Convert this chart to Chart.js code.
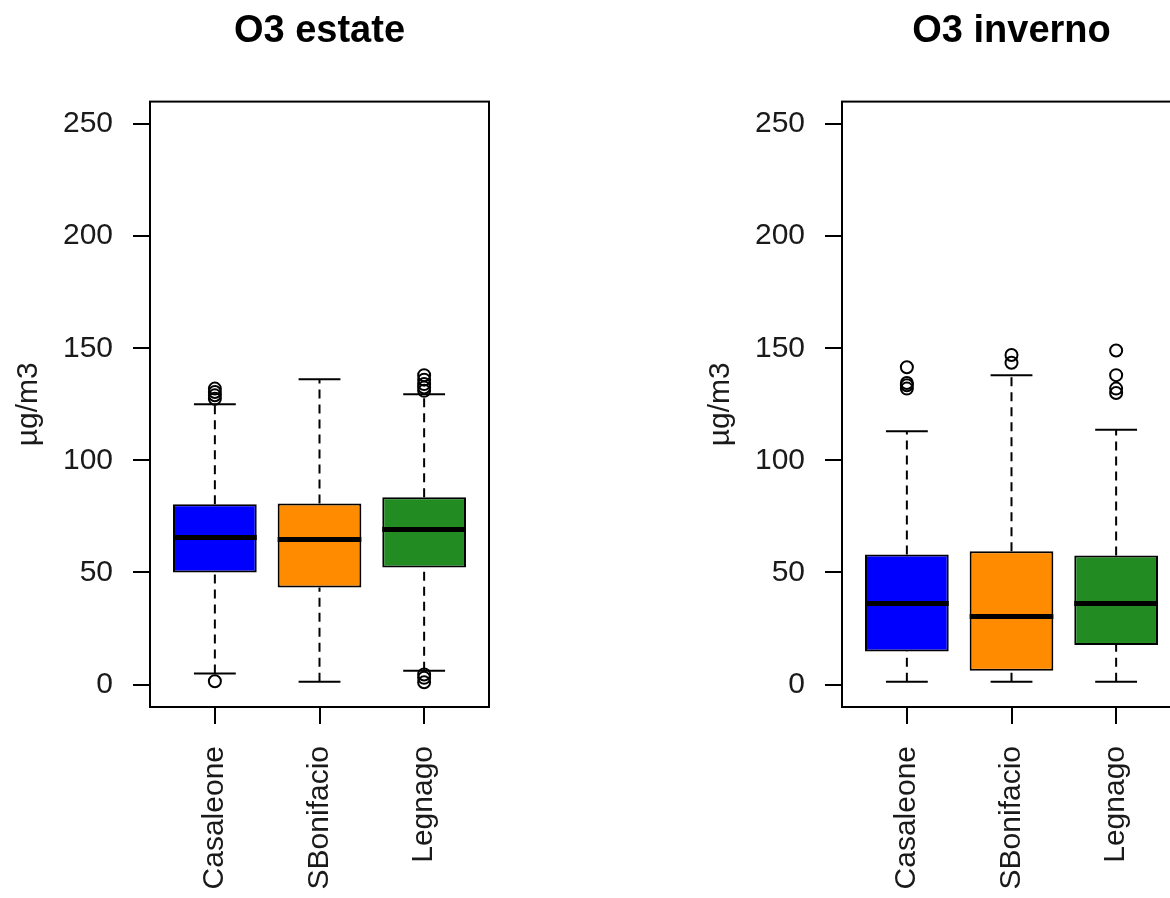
<!DOCTYPE html>
<html>
<head>
<meta charset="utf-8">
<script src="https://cdn.jsdelivr.net/npm/chart.js@4.4.1/dist/chart.umd.min.js"></script>
<style>
  html, body { margin: 0; padding: 0; background: #fff; overflow: hidden; }
  #wrap { position: relative; width: 1170px; height: 898px; overflow: hidden; }
  .panel { position: absolute; top: 0; width: 540px; height: 898px; }
</style>
</head>
<body>
<div id="wrap">
  <div class="panel" style="left:0px"><canvas id="estate" width="540" height="898"></canvas></div>
  <div class="panel" style="left:692px"><canvas id="inverno" width="540" height="898"></canvas></div>
</div>
<script>
const stations = ["Casaleone", "SBonifacio", "Legnago"];
const boxColors = ["#0000FF", "#FF8C00", "#228B22"];
const yTickValues = [0, 50, 100, 150, 200, 250];
const yAxisTitle = "\u00b5g/m3";

// O3 estate
const estateLow = [4.9, 1.3, 6.2];
const estateQ1 = [50, 43.3, 52.2];
const estateMedian = [65.6, 64.7, 69.2];
const estateQ3 = [80.4, 80.8, 83.5];
const estateHigh = [125, 136.2, 129.5];
const estateOutliers = [
    [1.5, 127.5, 129, 130.5, 132],
    [],
    [1, 3, 4.5, 131, 132.5, 134, 136, 138]
];

// O3 inverno
const invernoLow = [1.3, 1.3, 1.3];
const invernoQ1 = [14.7, 6.2, 17.7];
const invernoMedian = [36.2, 30.4, 36.2];
const invernoQ3 = [58, 59.5, 57.6];
const invernoHigh = [113, 138, 113.7];
const invernoOutliers = [
    [132, 133.5, 134.5, 141.5],
    [143.5, 147],
    [130, 132, 138, 149]
];

const FONT = "'Liberation Sans', Arial, Helvetica, sans-serif";

// outer box around the plot region (like R's box())
const framePlugin = {
    id: 'frame',
    afterDatasetsDraw(chart) {
        const { ctx, chartArea: a } = chart;
        ctx.save();
        ctx.strokeStyle = '#000';
        ctx.lineWidth = 2;
        ctx.strokeRect(a.left, a.top, a.right - a.left, a.bottom - a.top);
        ctx.restore();
    }
};

function segment(p0, p1, width, dash, order) {
    return {
        type: 'line',
        data: [{ x: p0[0], y: p0[1] }, { x: p1[0], y: p1[1] }],
        borderColor: '#000',
        borderWidth: width,
        borderDash: dash,
        borderCapStyle: 'butt',
        pointRadius: 0,
        fill: false,
        tension: 0,
        order: order
    };
}

function buildBoxplot(canvasId, title, low, q1, med, q3, high, outliers) {
    const datasets = [];

    // the boxes: floating bars from Q1 to Q3
    datasets.push({
        type: 'bar',
        data: stations.map((s, i) => ({ x: i + 1, y: [q1[i], q3[i]] })),
        backgroundColor: boxColors,
        borderColor: '#000',
        borderWidth: 2,
        borderSkipped: false,
        barPercentage: 0.8,
        categoryPercentage: 1,
        order: 3
    });

    // whiskers, staples and medians
    stations.forEach((s, i) => {
        const x = i + 1;
        datasets.push(segment([x, q3[i]], [x, high[i]], 2, [9, 6], 2));
        datasets.push(segment([x, low[i]], [x, q1[i]], 2, [9, 6], 2));
        datasets.push(segment([x - 0.2, high[i]], [x + 0.2, high[i]], 2, [], 2));
        datasets.push(segment([x - 0.2, low[i]], [x + 0.2, low[i]], 2, [], 2));
        datasets.push(segment([x - 0.4, med[i]], [x + 0.4, med[i]], 5, [], 1));
    });

    // outliers as open circles
    datasets.push({
        type: 'scatter',
        data: outliers.flatMap((vals, i) => vals.map(v => ({ x: i + 1, y: v }))),
        pointStyle: 'circle',
        pointRadius: 6,
        pointBackgroundColor: 'rgba(0,0,0,0)',
        pointBorderColor: '#000',
        pointBorderWidth: 2,
        order: 0
    });

    new Chart(document.getElementById(canvasId), {
        type: 'scatter',
        data: { datasets: datasets },
        options: {
            responsive: false,
            animation: false,
            devicePixelRatio: 1,
            events: [],
            layout: { padding: { left: 0, right: 51, top: 0, bottom: 0 } },
            plugins: {
                legend: { display: false },
                tooltip: { enabled: false },
                title: {
                    display: true,
                    text: title,
                    fullSize: false,
                    color: '#000',
                    font: { family: FONT, size: 38, weight: 'bold' },
                    padding: { top: 9, bottom: 47 }
                }
            },
            scales: {
                x: {
                    type: 'linear',
                    min: 0.38,
                    max: 3.62,
                    offset: false,
                    afterBuildTicks: (scale) => {
                        scale.ticks = stations.map((s, i) => ({ value: i + 1 }));
                    },
                    afterFit: (scale) => { scale.height = 191; },
                    grid: { offset: false, drawOnChartArea: false, drawTicks: true, tickLength: 17, color: '#000', lineWidth: 2 },
                    border: { display: false },
                    ticks: {
                        autoSkip: false,
                        minRotation: 90,
                        maxRotation: 90,
                        padding: 22,
                        color: '#1a1a1a',
                        font: { family: FONT, size: 30 },
                        callback: (v) => stations[Math.round(v) - 1]
                    }
                },
                y: {
                    type: 'linear',
                    min: -10,
                    max: 260,
                    afterBuildTicks: (scale) => {
                        scale.ticks = yTickValues.map(v => ({ value: v }));
                    },
                    afterFit: (scale) => { scale.width = 150; },
                    grid: { drawOnChartArea: false, drawTicks: true, tickLength: 17, color: '#000', lineWidth: 2 },
                    border: { display: false },
                    ticks: {
                        padding: 20,
                        color: '#1a1a1a',
                        font: { family: FONT, size: 30 }
                    },
                    title: {
                        display: true,
                        text: yAxisTitle,
                        color: '#1a1a1a',
                        font: { family: FONT, size: 30 },
                        padding: { top: 11, bottom: 0 }
                    }
                }
            }
        },
        plugins: [framePlugin]
    });
}

buildBoxplot('estate', 'O3 estate', estateLow, estateQ1, estateMedian, estateQ3, estateHigh, estateOutliers);
buildBoxplot('inverno', 'O3 inverno', invernoLow, invernoQ1, invernoMedian, invernoQ3, invernoHigh, invernoOutliers);
</script>
</body>
</html>
